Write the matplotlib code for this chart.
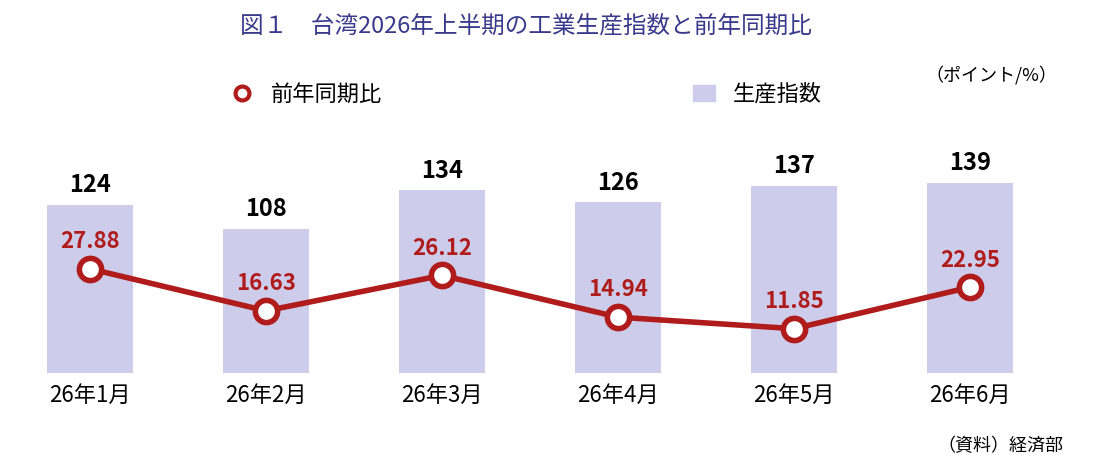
import matplotlib
matplotlib.use("Agg")
import matplotlib.pyplot as plt
from matplotlib.lines import Line2D
from matplotlib.patches import Patch

plt.rcParams['font.family'] = ['Noto Sans CJK JP', 'DejaVu Sans']

months = ["26年1月", "26年2月", "26年3月", "26年4月", "26年5月", "26年6月"]
index_vals = [124, 108, 134, 126, 137, 139]
yoy_vals = [27.88, 16.63, 26.12, 14.94, 11.85, 22.95]

bar_color = "#cdcdeb"
line_color = "#b01c1c"

fig = plt.figure(figsize=(10.96, 4.70), dpi=100)
ax = fig.add_axes([2 / 1096, 97 / 470, 1056 / 1096, 243 / 470])
x = range(len(months))
ax.bar(x, index_vals, width=0.49, color=bar_color, zorder=1)
ax.set_xlim(-0.5, 5.5)
ax.set_ylim(12, 174)
for xi, v in zip(x, index_vals):
    ax.text(xi, v + 5, str(v), ha="center", va="bottom", fontsize=17,
            fontweight="bold", color="black")
ax.set_yticks([])
ax.set_xticks(list(x))
ax.set_xticklabels(months, fontsize=16)
ax.tick_params(axis="x", length=0, pad=8)
for s in ax.spines.values():
    s.set_visible(False)

ax2 = ax.twinx()
ax2.set_ylim(0, 65)
ax2.plot(x, yoy_vals, color=line_color, lw=4, marker="o", ms=16,
         mfc="white", mec=line_color, mew=4, zorder=3)
for xi, v in zip(x, yoy_vals):
    ax2.text(xi, v + 4.2, f"{v:.2f}", ha="center", va="bottom", fontsize=16,
             fontweight="bold", color=line_color)
ax2.set_yticks([])
for s in ax2.spines.values():
    s.set_visible(False)

fig.text(0.48, 0.945, "図１　台湾2026年上半期の工業生産指数と前年同期比",
         ha="center", va="center", fontsize=17, color="#3a3a8c")
handles = [Line2D([], [], color=line_color, lw=3, marker="o", ms=10,
                  mfc="white", mec=line_color, mew=3, linestyle="none"),
           Patch(color=bar_color)]
fig.legend(handles, ["前年同期比", "生産指数"], loc="center",
           bbox_to_anchor=(0.48, 0.80), ncol=2, frameon=False, fontsize=16,
           columnspacing=14, handlelength=1.0)
fig.text(0.965, 0.84, "（ポイント/%）", ha="right", va="center", fontsize=13)
fig.text(0.97, 0.05, "（資料）経済部", ha="right", va="center", fontsize=13)

fig.savefig("out.png", dpi=100, facecolor="white")
